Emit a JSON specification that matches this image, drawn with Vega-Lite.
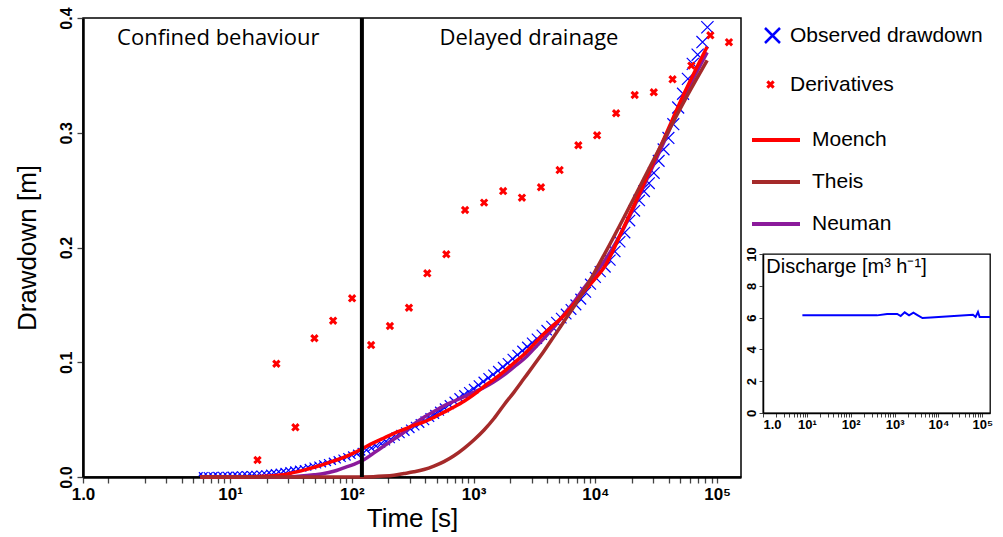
{
  "$schema": "https://vega.github.io/schema/vega-lite/v6.json",
  "background": "white",
  "padding": {"left": 13, "top": 6, "right": 5, "bottom": 5},
  "bounds": "flush",
  "spacing": 22,
  "config": {
    "view": {"stroke": null},
    "font": "Liberation Sans",
    "axis": {"labelOverlap": false},
    "legend": {"layout": {"right": {"anchor": "start", "direction": "vertical", "margin": 19}}, "labelFont": "Liberation Sans", "labelFontSize": 21, "labelColor": "black", "labelLimit": 400, "offset": 12, "padding": 0}
  },
  "datasets": {
    "observed": [{"t":5.75,"s":0.0025},{"t":6.31,"s":0.0025},{"t":6.92,"s":0.0025},{"t":7.59,"s":0.0025},{"t":8.32,"s":0.0025},{"t":9.12,"s":0.0025},{"t":10,"s":0.0025},{"t":11,"s":0.0025},{"t":12,"s":0.0027},{"t":13.2,"s":0.0028},{"t":14.5,"s":0.0029},{"t":15.8,"s":0.003},{"t":17.4,"s":0.0032},{"t":19.1,"s":0.0034},{"t":20.9,"s":0.0038},{"t":22.9,"s":0.0042},{"t":25.1,"s":0.0046},{"t":27.5,"s":0.0052},{"t":30.2,"s":0.0058},{"t":33.1,"s":0.0064},{"t":36.3,"s":0.007},{"t":39.8,"s":0.0076},{"t":43.7,"s":0.0085},{"t":47.9,"s":0.0096},{"t":52.5,"s":0.0105},{"t":57.5,"s":0.0115},{"t":63.1,"s":0.0126},{"t":69.2,"s":0.0137},{"t":75.9,"s":0.015},{"t":83.2,"s":0.0163},{"t":91.2,"s":0.0176},{"t":100,"s":0.019},{"t":110,"s":0.0205},{"t":120,"s":0.022},{"t":132,"s":0.0236},{"t":145,"s":0.0252},{"t":158,"s":0.027},{"t":174,"s":0.029},{"t":191,"s":0.031},{"t":209,"s":0.033},{"t":229,"s":0.0352},{"t":251,"s":0.0374},{"t":275,"s":0.0396},{"t":302,"s":0.042},{"t":331,"s":0.0443},{"t":363,"s":0.0466},{"t":398,"s":0.049},{"t":437,"s":0.0518},{"t":479,"s":0.0546},{"t":525,"s":0.0574},{"t":575,"s":0.0602},{"t":631,"s":0.063},{"t":692,"s":0.066},{"t":759,"s":0.069},{"t":832,"s":0.0716},{"t":912,"s":0.0743},{"t":1000,"s":0.077},{"t":1096,"s":0.0801},{"t":1202,"s":0.0832},{"t":1318,"s":0.0863},{"t":1445,"s":0.0894},{"t":1585,"s":0.0925},{"t":1738,"s":0.096},{"t":1905,"s":0.0993},{"t":2089,"s":0.103},{"t":2291,"s":0.1065},{"t":2512,"s":0.11},{"t":2754,"s":0.1135},{"t":3020,"s":0.117},{"t":3311,"s":0.1205},{"t":3631,"s":0.124},{"t":3981,"s":0.128},{"t":4365,"s":0.1315},{"t":4786,"s":0.135},{"t":5248,"s":0.1385},{"t":5754,"s":0.142},{"t":6310,"s":0.146},{"t":6918,"s":0.15},{"t":7586,"s":0.155},{"t":8318,"s":0.161},{"t":9120,"s":0.168},{"t":10000,"s":0.174},{"t":10960,"s":0.179},{"t":12020,"s":0.183},{"t":13180,"s":0.189},{"t":14450,"s":0.1965},{"t":15850,"s":0.205},{"t":17380,"s":0.213},{"t":19050,"s":0.2235},{"t":20890,"s":0.232},{"t":22910,"s":0.241},{"t":25120,"s":0.249},{"t":27540,"s":0.256},{"t":30200,"s":0.265},{"t":33110,"s":0.2755},{"t":36310,"s":0.2855},{"t":39810,"s":0.2955},{"t":43650,"s":0.3075},{"t":47860,"s":0.322},{"t":52480,"s":0.334},{"t":57540,"s":0.347},{"t":63100,"s":0.36},{"t":69180,"s":0.368},{"t":75860,"s":0.379},{"t":83180,"s":0.392}],
    "derivatives": [{"t":16.8,"s":0.0148},{"t":24.0,"s":0.0987},{"t":34.4,"s":0.0433},{"t":49.3,"s":0.1209},{"t":70.2,"s":0.1362},{"t":100.5,"s":0.1557},{"t":144,"s":0.115},{"t":205.5,"s":0.1316},{"t":294.6,"s":0.1475},{"t":416.5,"s":0.1775},{"t":597,"s":0.1941},{"t":851,"s":0.2327},{"t":1219,"s":0.2391},{"t":1748,"s":0.2492},{"t":2494,"s":0.2434},{"t":3575,"s":0.2525},{"t":5086,"s":0.2675},{"t":7244,"s":0.2891},{"t":10330,"s":0.2978},{"t":14800,"s":0.317},{"t":21040,"s":0.3329},{"t":30180,"s":0.3353},{"t":43040,"s":0.3466},{"t":61380,"s":0.3585},{"t":87940,"s":0.3849},{"t":125000,"s":0.3789}],
    "models": [
      {"model":"Moench","t":5.7,"s":0},{"model":"Moench","t":10,"s":0},{"model":"Moench","t":15,"s":0.0002},{"model":"Moench","t":18.9,"s":0.0006},{"model":"Moench","t":23,"s":0.0012},{"model":"Moench","t":27.5,"s":0.002},{"model":"Moench","t":33,"s":0.0038},{"model":"Moench","t":40.3,"s":0.006},{"model":"Moench","t":49,"s":0.0085},{"model":"Moench","t":58.9,"s":0.011},{"model":"Moench","t":71,"s":0.014},{"model":"Moench","t":85.9,"s":0.017},{"model":"Moench","t":104,"s":0.021},{"model":"Moench","t":125.5,"s":0.0255},{"model":"Moench","t":152,"s":0.03},{"model":"Moench","t":183.3,"s":0.034},{"model":"Moench","t":222,"s":0.038},{"model":"Moench","t":267.7,"s":0.0415},{"model":"Moench","t":323,"s":0.045},{"model":"Moench","t":391,"s":0.048},{"model":"Moench","t":472,"s":0.052},{"model":"Moench","t":571,"s":0.0565},{"model":"Moench","t":690,"s":0.061},{"model":"Moench","t":835,"s":0.066},{"model":"Moench","t":1010,"s":0.072},{"model":"Moench","t":1219,"s":0.079},{"model":"Moench","t":1470,"s":0.085},{"model":"Moench","t":1781,"s":0.092},{"model":"Moench","t":2150,"s":0.0995},{"model":"Moench","t":2603,"s":0.107},{"model":"Moench","t":3150,"s":0.116},{"model":"Moench","t":3802,"s":0.125},{"model":"Moench","t":4600,"s":0.133},{"model":"Moench","t":5556,"s":0.141},{"model":"Moench","t":6720,"s":0.151},{"model":"Moench","t":8115,"s":0.162},{"model":"Moench","t":9800,"s":0.172},{"model":"Moench","t":11860,"s":0.183},{"model":"Moench","t":17330,"s":0.219},{"model":"Moench","t":25300,"s":0.257},{"model":"Moench","t":36980,"s":0.296},{"model":"Moench","t":54000,"s":0.335},{"model":"Moench","t":82800,"s":0.375},
      {"model":"Theis","t":5.7,"s":0},{"model":"Theis","t":100,"s":0},{"model":"Theis","t":150,"s":0.0003},{"model":"Theis","t":183.3,"s":0.0008},{"model":"Theis","t":222,"s":0.0016},{"model":"Theis","t":267.7,"s":0.003},{"model":"Theis","t":323,"s":0.0045},{"model":"Theis","t":391,"s":0.0065},{"model":"Theis","t":472,"s":0.0095},{"model":"Theis","t":571,"s":0.0134},{"model":"Theis","t":690,"s":0.0185},{"model":"Theis","t":835,"s":0.025},{"model":"Theis","t":1010,"s":0.0325},{"model":"Theis","t":1219,"s":0.041},{"model":"Theis","t":1470,"s":0.051},{"model":"Theis","t":1781,"s":0.063},{"model":"Theis","t":2150,"s":0.074},{"model":"Theis","t":2603,"s":0.086},{"model":"Theis","t":3150,"s":0.098},{"model":"Theis","t":3802,"s":0.11},{"model":"Theis","t":4600,"s":0.123},{"model":"Theis","t":5556,"s":0.136},{"model":"Theis","t":6720,"s":0.149},{"model":"Theis","t":8115,"s":0.163},{"model":"Theis","t":9800,"s":0.178},{"model":"Theis","t":11860,"s":0.194},{"model":"Theis","t":17330,"s":0.227},{"model":"Theis","t":25300,"s":0.261},{"model":"Theis","t":36980,"s":0.295},{"model":"Theis","t":54000,"s":0.328},{"model":"Theis","t":82800,"s":0.363},
      {"model":"Neuman","t":5.7,"s":0},{"model":"Neuman","t":27.5,"s":0},{"model":"Neuman","t":33,"s":0.0003},{"model":"Neuman","t":40.3,"s":0.001},{"model":"Neuman","t":49,"s":0.002},{"model":"Neuman","t":58.9,"s":0.003},{"model":"Neuman","t":71,"s":0.005},{"model":"Neuman","t":85.9,"s":0.008},{"model":"Neuman","t":104,"s":0.011},{"model":"Neuman","t":125.5,"s":0.015},{"model":"Neuman","t":152,"s":0.021},{"model":"Neuman","t":183.3,"s":0.027},{"model":"Neuman","t":222,"s":0.033},{"model":"Neuman","t":267.7,"s":0.039},{"model":"Neuman","t":323,"s":0.046},{"model":"Neuman","t":391,"s":0.052},{"model":"Neuman","t":472,"s":0.057},{"model":"Neuman","t":571,"s":0.062},{"model":"Neuman","t":690,"s":0.066},{"model":"Neuman","t":835,"s":0.07},{"model":"Neuman","t":1010,"s":0.074},{"model":"Neuman","t":1219,"s":0.078},{"model":"Neuman","t":1470,"s":0.083},{"model":"Neuman","t":1781,"s":0.089},{"model":"Neuman","t":2150,"s":0.096},{"model":"Neuman","t":2603,"s":0.103},{"model":"Neuman","t":3150,"s":0.112},{"model":"Neuman","t":3802,"s":0.121},{"model":"Neuman","t":4600,"s":0.131},{"model":"Neuman","t":5556,"s":0.142},{"model":"Neuman","t":6720,"s":0.153},{"model":"Neuman","t":8115,"s":0.165},{"model":"Neuman","t":9800,"s":0.176},{"model":"Neuman","t":11860,"s":0.188},{"model":"Neuman","t":17330,"s":0.218},{"model":"Neuman","t":25300,"s":0.255},{"model":"Neuman","t":36980,"s":0.293},{"model":"Neuman","t":54000,"s":0.332},{"model":"Neuman","t":82800,"s":0.37}
    ],
    "discharge": [{"t":7.9,"q":6.14},{"t":50,"q":6.14},{"t":398,"q":6.14},{"t":675,"q":6.23},{"t":1150,"q":6.23},{"t":1380,"q":6.1},{"t":1700,"q":6.33},{"t":2140,"q":6.14},{"t":2690,"q":6.31},{"t":3320,"q":6.16},{"t":4330,"q":5.97},{"t":6740,"q":6.0},{"t":61400,"q":6.18},{"t":70500,"q":6.04},{"t":79800,"q":6.35},{"t":87000,"q":6.04},{"t":150000,"q":6.04}]
  },
  "hconcat": [
    {
      "width": 658,
      "height": 459,
      "view": {"stroke": "black", "strokeWidth": 1.5},
      "resolve": {"scale": {"color": "independent"}},
      "layer": [
        {
          "data": {"name": "observed"},
          "mark": {"type": "point", "shape": "M-1,-1L1,1M-1,1L1,-1", "filled": false, "strokeWidth": 1.2, "opacity": 1},
          "encoding": {
            "x": {"field": "t", "type": "quantitative", "scale": {"type": "log", "domain": [0.62, 157000], "nice": false},
              "axis": {"title": "Time [s]", "titleFontSize": 26, "titleFontWeight": "normal", "titleColor": "black", "titlePadding": 3,
                "values": [0.62,1,2,3,4,5,6,7,8,9,10,20,30,40,50,60,70,80,90,100,200,300,400,500,600,700,800,900,1000,2000,3000,4000,5000,6000,7000,8000,9000,10000,20000,30000,40000,50000,60000,70000,80000,90000,100000],
                "labelExpr": "datum.value < 0.9 ? '1.0' : datum.value == 10 ? '10¹' : datum.value == 100 ? '10²' : datum.value == 1000 ? '10³' : datum.value == 10000 ? '10⁴' : datum.value == 100000 ? '10⁵' : ''",
                "labelFontSize": 17, "labelFontWeight": "bold", "labelColor": "black", "labelFlush": false, "labelOverlap": false, "labelPadding": 3,
                "tickSize": 6, "tickColor": "#444", "tickWidth": 1.3, "domainColor": "black", "domainWidth": 2.5, "grid": false}},
            "y": {"field": "s", "type": "quantitative", "scale": {"domain": [0, 0.4], "nice": false},
              "axis": {"title": "Drawdown [m]", "titleFontSize": 26, "titleFontWeight": "normal", "titleColor": "black", "titlePadding": 18,
                "values": [0, 0.1, 0.2, 0.3, 0.4], "format": ".1f", "labelAngle": -90, "labelAlign": "center", "labelBaseline": "bottom",
                "labelFontSize": 16, "labelFontWeight": "bold", "labelColor": "black", "labelPadding": 3, "labelOverlap": false,
                "tickSize": 6, "tickColor": "#444", "tickWidth": 1.3, "domainColor": "black", "domainWidth": 2.5, "grid": false}},
            "size": {"field": "t", "type": "quantitative", "scale": {"type": "log", "domain": [5.75, 83180], "range": [14, 150]}, "legend": null},
            "color": {"datum": "Observed drawdown", "type": "nominal", "scale": {"range": ["#0000ff"]},
              "legend": {"title": null, "padding": 7, "symbolType": "M-1,-1L1,1M-1,1L1,-1", "symbolSize": 225, "symbolStrokeWidth": 2.5, "symbolOffset": 2, "labelOffset": 7}}
          }
        },
        {
          "data": {"name": "derivatives"},
          "mark": {"type": "point", "shape": "M-1,-1L1,1M-1,1L1,-1", "filled": false, "strokeWidth": 3, "size": 40, "opacity": 1},
          "encoding": {
            "x": {"field": "t", "type": "quantitative"},
            "y": {"field": "s", "type": "quantitative"},
            "color": {"datum": "Derivatives", "type": "nominal", "scale": {"range": ["#ff0000"]},
              "legend": {"title": null, "symbolType": "M-1,-1L1,1M-1,1L1,-1", "symbolSize": 40, "symbolStrokeWidth": 3, "symbolOffset": 7, "labelOffset": 9}}
          }
        },
        {
          "data": {"name": "models"},
          "layer": [
            {
              "transform": [{"filter": "datum.model == 'Neuman'"}],
              "mark": {"type": "line", "strokeWidth": 3.5, "interpolate": "monotone"},
              "encoding": {
                "x": {"field": "t", "type": "quantitative"},
                "y": {"field": "s", "type": "quantitative"},
                "color": {"field": "model", "type": "nominal", "scale": {"domain": ["Moench", "Theis", "Neuman"], "range": ["#ff0000", "#a52a2a", "#8b1a9b"]},
                  "legend": {"title": null, "symbolType": "stroke", "symbolSize": 2304, "symbolStrokeWidth": 4, "rowPadding": 6, "symbolOffset": -3, "labelOffset": 10}}
              }
            },
            {
              "transform": [{"filter": "datum.model == 'Moench'"}],
              "mark": {"type": "line", "strokeWidth": 3.5, "interpolate": "monotone"},
              "encoding": {
                "x": {"field": "t", "type": "quantitative"},
                "y": {"field": "s", "type": "quantitative"},
                "color": {"field": "model", "type": "nominal"}
              }
            },
            {
              "transform": [{"filter": "datum.model == 'Theis'"}],
              "mark": {"type": "line", "strokeWidth": 3.5, "interpolate": "monotone"},
              "encoding": {
                "x": {"field": "t", "type": "quantitative"},
                "y": {"field": "s", "type": "quantitative"},
                "color": {"field": "model", "type": "nominal"}
              }
            }
          ]
        },
        {
          "data": {"values": [{"t": 121}]},
          "mark": {"type": "rule", "color": "black", "strokeWidth": 4},
          "encoding": {"x": {"field": "t", "type": "quantitative"}}
        },
        {
          "data": {"values": [{"label": "Confined behaviour", "t": 8.0, "s": 0.3826}, {"label": "Delayed drainage", "t": 2850, "s": 0.3826}]},
          "mark": {"type": "text", "font": "Open Sans", "fontSize": 22, "color": "black", "align": "center", "baseline": "middle"},
          "encoding": {
            "x": {"field": "t", "type": "quantitative"},
            "y": {"field": "s", "type": "quantitative"},
            "text": {"field": "label"}
          }
        }
      ]
    },
    {
      "bounds": "flush",
      "spacing": 10,
      "vconcat": [
        {
          "width": 227,
          "height": 226,
          "data": {"values": []},
          "mark": "point",
          "encoding": {}
        },
        {
          "width": 227,
          "height": 159,
          "view": {"stroke": "black", "strokeWidth": 1.3},
          "layer": [
            {
              "data": {"name": "discharge"},
              "mark": {"type": "line", "color": "#0000ff", "strokeWidth": 2},
              "encoding": {
                "x": {"field": "t", "type": "quantitative", "scale": {"type": "log", "domain": [1, 150000], "nice": false},
                  "axis": {"title": null,
                    "values": [1,2,3,4,5,6,7,8,9,10,20,30,40,50,60,70,80,90,100,200,300,400,500,600,700,800,900,1000,2000,3000,4000,5000,6000,7000,8000,9000,10000,20000,30000,40000,50000,60000,70000,80000,90000,100000],
                    "labelExpr": "datum.value == 1 ? '1.0' : datum.value == 10 ? '10¹' : datum.value == 100 ? '10²' : datum.value == 1000 ? '10³' : datum.value == 10000 ? '10⁴' : datum.value == 100000 ? '10⁵' : ''",
                    "labelFontSize": 13, "labelFontWeight": "bold", "labelColor": "black", "labelFlush": true, "labelOverlap": false, "labelPadding": 1,
                    "tickSize": 4, "tickColor": "#444", "domainColor": "black", "domainWidth": 1.5, "grid": false}},
                "y": {"field": "q", "type": "quantitative", "scale": {"domain": [0, 10], "nice": false},
                  "axis": {"title": null, "values": [0, 2, 4, 6, 8, 10], "labelAngle": -90, "labelAlign": "center", "labelBaseline": "bottom",
                    "labelFontSize": 13, "labelFontWeight": "bold", "labelColor": "black", "labelPadding": 1, "labelOverlap": false,
                    "tickSize": 4, "tickColor": "#444", "domainColor": "black", "domainWidth": 1.5, "grid": false}}
              }
            },
            {
              "data": {"values": [{"label": "Discharge [m³ h⁻¹]", "t": 1.19, "q": 9.2}]},
              "mark": {"type": "text", "fontSize": 20, "font": "Liberation Sans", "color": "black", "align": "left", "baseline": "middle"},
              "encoding": {
                "x": {"field": "t", "type": "quantitative"},
                "y": {"field": "q", "type": "quantitative", "axis": {"title": null, "values": [0, 2, 4, 6, 8, 10], "labelAngle": -90, "labelAlign": "center", "labelBaseline": "bottom",
                    "labelFontSize": 13, "labelFontWeight": "bold", "labelColor": "black", "labelPadding": 1, "labelOverlap": false,
                    "tickSize": 4, "tickColor": "#444", "domainColor": "black", "domainWidth": 1.5, "grid": false}},
                "text": {"field": "label"}
              }
            }
          ]
        }
      ]
    }
  ]
}
